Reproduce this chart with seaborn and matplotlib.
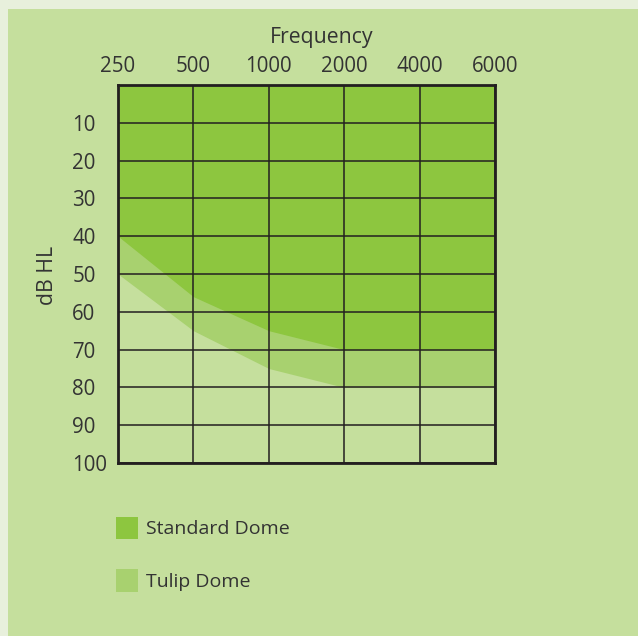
import matplotlib
matplotlib.use("Agg")
import matplotlib.pyplot as plt
import seaborn as sns
import pandas as pd
from matplotlib.patches import Rectangle, Patch

frequencies = ["250", "500", "1000", "2000", "4000", "6000"]
standard_dome = [40, 56, 65, 70, 70, 70]
tulip_dome = [50, 65, 75, 80, 80, 80]
y_ticks = [10, 20, 30, 40, 50, 60, 70, 80, 90, 100]

BG = "#c5df9d"
BORDER = "#e8f0dc"
STD = "#8dc63f"
TULIP = "#a8d16f"
TXT = "#333333"
LINE = "#231f20"

sns.set_theme(style="white")
plt.rcParams['font.family'] = ['Open Sans', 'DejaVu Sans']

df = pd.DataFrame({"pos": list(range(len(frequencies))),
                   "Standard Dome": standard_dome,
                   "Tulip Dome": tulip_dome})

fig = plt.figure(figsize=(6.38, 6.36), dpi=100)
fig.patch.set_facecolor(BORDER)
fig.patches.append(Rectangle((8/638, 0), 1, 1 - 9/636, transform=fig.transFigure,
                             facecolor=BG, edgecolor="none", zorder=-10))

ax = fig.add_axes([118/638, 1 - 463/636, 377/638, 378/636])
ax.set_facecolor(BG)

sns.lineplot(data=df, x="pos", y="Tulip Dome", ax=ax, color=TULIP, linewidth=0)
sns.lineplot(data=df, x="pos", y="Standard Dome", ax=ax, color=STD, linewidth=0)
ax.fill_between(df["pos"], 0, df["Tulip Dome"], color=TULIP, linewidth=0, zorder=1)
ax.fill_between(df["pos"], 0, df["Standard Dome"], color=STD, linewidth=0, zorder=2)

ax.set_xlim(0, len(frequencies) - 1)
ax.set_ylim(100, 0)

ax.xaxis.tick_top()
ax.xaxis.set_label_position("top")
ax.set_xticks(range(len(frequencies)))
ax.set_xticklabels(frequencies)
ax.set_yticks(y_ticks)
ax.set_yticklabels([str(v) for v in y_ticks])
for lbl in ax.get_yticklabels():
    lbl.set_horizontalalignment("left")
ax.tick_params(axis="y", length=0, pad=33, labelsize=14.8, labelcolor=TXT)
ax.tick_params(axis="x", length=0, pad=6, labelsize=14.8, labelcolor=TXT)

ax.grid(True, color=LINE, linewidth=1.1, zorder=3)
ax.set_axisbelow(False)
for s in ax.spines.values():
    s.set_color(LINE)
    s.set_linewidth(2)
    s.set_zorder(4)

ax.set_xlabel("Frequency", fontsize=15.3, color=TXT)
ax.xaxis.set_label_coords(0.541, 1.111)
ax.set_ylabel("dB HL", fontsize=15.3, color=TXT)
ax.yaxis.set_label_coords(-0.16, 0.495)

handles = [Patch(facecolor=STD, edgecolor="none", label="Standard Dome"),
           Patch(facecolor=TULIP, edgecolor="none", label="Tulip Dome")]
fig.legend(handles=handles, loc="upper left", bbox_to_anchor=(98/638, 1 - 499/636),
           frameon=False, fontsize=14, handlelength=1.15, handleheight=1.4,
           handletextpad=0.4, labelspacing=1.55, labelcolor=TXT)

fig.savefig("out.png", dpi=100, facecolor=fig.get_facecolor())
